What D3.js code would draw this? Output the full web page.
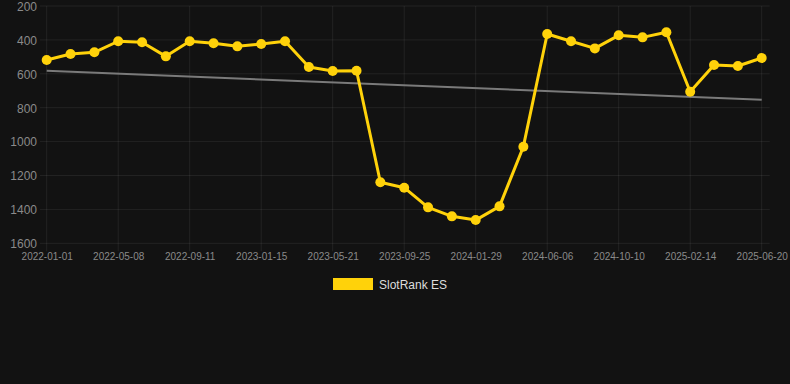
<!DOCTYPE html>
<html>
<head>
<meta charset="utf-8">
<script src="https://cdn.jsdelivr.net/npm/d3@7"></script>
<style>
  html, body { margin: 0; padding: 0; background: #121212; }
  svg { display: block; }
  text { font-family: "Liberation Sans", Arial, Helvetica, sans-serif; }
</style>
</head>
<body>
<svg id="chart" width="790" height="384"></svg>
<script>
// ---- data ----
const dates = [
  "2022-01-01","2022-02-12","2022-03-26","2022-05-08","2022-06-19","2022-07-31",
  "2022-09-11","2022-10-23","2022-12-04","2023-01-15","2023-02-26","2023-04-09",
  "2023-05-21","2023-07-02","2023-08-13","2023-09-25","2023-11-06","2023-12-18",
  "2024-01-29","2024-03-11","2024-04-24","2024-06-06","2024-07-18","2024-08-29",
  "2024-10-10","2024-11-21","2025-01-02","2025-02-14","2025-03-28","2025-05-09",
  "2025-06-20"
];
const rankES = [
  519, 483, 473, 408, 414, 497, 408, 420, 438, 424, 408, 560,
  583, 582, 1240, 1272, 1388, 1441, 1463, 1382, 1030, 365, 408, 450,
  373, 385, 355, 706, 548, 554, 507
];
const trendStartEnd = [582, 753];
const yTicks = [200, 400, 600, 800, 1000, 1200, 1400, 1600];
const xTickLabels = dates.filter((d, i) => i % 3 === 0);
const seriesName = "SlotRank ES";

(function () {
  // ---- layout ----
  const svg = d3.select("#chart");
  const pLeft = 46.7, pRight = 761.7, pTop = 6, pBottom = 243.3;

  const x = d3.scalePoint().domain(dates).range([pLeft, pRight]);
  const y = d3.scaleLinear().domain([200, 1600]).range([pTop, pBottom]);

  const gridColor = "rgba(255,255,255,0.07)";

  // horizontal grid
  svg.append("g").selectAll("line").data(yTicks).join("line")
    .attr("x1", 40).attr("x2", pRight + 8)
    .attr("y1", d => y(d)).attr("y2", d => y(d))
    .attr("stroke", gridColor).attr("stroke-width", 1);

  // vertical grid
  svg.append("g").selectAll("line").data(xTickLabels).join("line")
    .attr("x1", d => x(d)).attr("x2", d => x(d))
    .attr("y1", pTop).attr("y2", pBottom + 8)
    .attr("stroke", gridColor).attr("stroke-width", 1);

  // y axis labels
  const yAxis = d3.axisLeft(y).tickValues(yTicks).tickFormat(d3.format("d"))
    .tickSize(0).tickPadding(0);
  const gy = svg.append("g").attr("transform", "translate(37,0.5)").call(yAxis);
  gy.select(".domain").remove();
  gy.selectAll("text").attr("fill", "#8a8a8a").attr("font-size", 12)
    .attr("font-family", "'Liberation Sans', Arial, sans-serif");

  // x axis labels
  const xAxis = d3.axisBottom(x).tickValues(xTickLabels).tickSize(0).tickPadding(0);
  const gx = svg.append("g").attr("transform", `translate(0,${pBottom + 10})`).call(xAxis);
  gx.select(".domain").remove();
  gx.selectAll("text").attr("fill", "#8a8a8a").attr("font-size", 10)
    .attr("font-family", "'Liberation Sans', Arial, sans-serif");

  // trend line
  svg.append("line")
    .attr("x1", x(dates[0])).attr("x2", x(dates[dates.length - 1]))
    .attr("y1", y(trendStartEnd[0])).attr("y2", y(trendStartEnd[1]))
    .attr("stroke", "#7a7a7a").attr("stroke-width", 2);

  // series line
  const line = d3.line().x((d, i) => x(dates[i])).y(d => y(d));
  svg.append("path").datum(rankES)
    .attr("d", line).attr("fill", "none")
    .attr("stroke", "#FFD20A").attr("stroke-width", 3).attr("stroke-linejoin", "round");

  svg.append("g").selectAll("circle").data(rankES).join("circle")
    .attr("cx", (d, i) => x(dates[i])).attr("cy", d => y(d))
    .attr("r", 5).attr("fill", "#FFD20A");

  // legend
  svg.append("rect").attr("x", 333).attr("y", 278).attr("width", 40).attr("height", 12)
    .attr("fill", "#FFD20A");
  svg.append("text").attr("x", 379).attr("y", 289).text(seriesName)
    .attr("fill", "#dddddd").attr("font-size", 12);
})();
</script>
</body>
</html>
